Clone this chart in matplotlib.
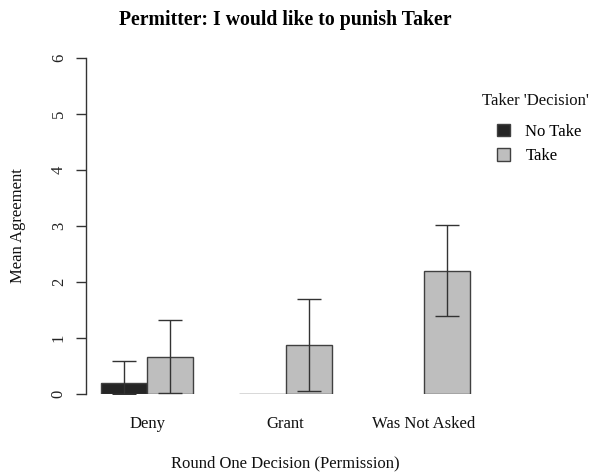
import numpy as np
import matplotlib
matplotlib.use("Agg")
import matplotlib.pyplot as plt
import matplotlib.transforms as mtransforms
from matplotlib.patches import Patch

# ---- data ----
groups = ["Deny", "Grant", "Was Not Asked"]
series = ["No Take", "Take"]
no_take_mean = [0.20, 0.00, np.nan]
no_take_lo = [0.00, 0.00, np.nan]
no_take_hi = [0.59, 0.00, np.nan]
take_mean = [0.67, 0.88, 2.21]
take_lo = [0.02, 0.06, 1.39]
take_hi = [1.32, 1.70, 3.02]
yticks = [0, 1, 2, 3, 4, 5, 6]

title = "Permitter: I would like to punish Taker"
xlabel = "Round One Decision (Permission)"
ylabel = "Mean Agreement"
legend_title = "Taker 'Decision'"

# ---- style ----
plt.rcParams['font.family'] = ['Liberation Serif', 'DejaVu Serif']
W, H = 589, 474
FS = 12
fig = plt.figure(figsize=(W / 100, H / 100), dpi=100)
ax = fig.add_axes([86.2 / W, 79.7 / H, (485 - 86.2) / W, 336 / H])

colors = ["#252525", "#bebebe"]
edge = "#404040"
errc = "#333333"

# R barplot beside layout: bar width 1, space between groups 1
n = len(groups)
group_start = np.arange(n) * 3 + 1.0
means = [no_take_mean, take_mean]
los = [no_take_lo, take_lo]
his = [no_take_hi, take_hi]
for s in range(len(series)):
    xc = group_start + s + 0.5
    m = np.array(means[s], dtype=float)
    ok = ~np.isnan(m)
    ax.bar(xc[ok], m[ok], width=1.0, color=colors[s], edgecolor=edge,
           linewidth=1.0, zorder=2)
    lo = np.array(los[s], dtype=float)
    hi = np.array(his[s], dtype=float)
    ok2 = ok & (hi > lo)
    ax.errorbar(xc[ok2], m[ok2], yerr=[m[ok2] - lo[ok2], hi[ok2] - m[ok2]],
                fmt='none', ecolor=errc, elinewidth=1.0, capsize=8.3,
                capthick=1.0, zorder=3)

ax.set_xlim(0.68, 9.32)
ax.set_ylim(0, 6)
ax.set_yticks(yticks)
ax.set_yticklabels([str(t) for t in yticks], rotation=90, va='center',
                   fontsize=FS)
ax.tick_params(axis='y', length=7, width=1.0, color='#333333', pad=7,
               labelcolor='#222222')
ax.set_xticks([])
for sp in ['top', 'right', 'bottom']:
    ax.spines[sp].set_visible(False)
ax.spines['left'].set_bounds(0, 6)
ax.spines['left'].set_color('#333333')
ax.spines['left'].set_linewidth(1.0)

# group labels
trans = mtransforms.blended_transform_factory(ax.transData, fig.transFigure)
for i, g in enumerate(groups):
    ax.text(group_start[i] + 1.0, 1 - 424 / H, g, transform=trans,
            ha='center', va='center', fontsize=FS, color='#111111')

fig.text((86.2 + 485) / 2 / W, 1 - 463 / H, xlabel, ha='center',
         va='center', fontsize=FS, color='#111111')
fig.text(18 / W, 1 - 226 / H, ylabel, rotation=90, ha='center',
         va='center', fontsize=FS, color='#111111')
fig.text((86.2 + 485) / 2 / W, 1 - 20 / H, title, ha='center', va='center',
         fontsize=14.2, fontweight='bold')

# legend
fig.text(535 / W, 1 - 101 / H, legend_title, ha='center', va='center',
         fontsize=FS, color='#111111')
handles = [Patch(facecolor=colors[i], edgecolor=edge, linewidth=1.0,
                 label=series[i]) for i in range(len(series))]
leg = fig.legend(handles=handles, frameon=False,
                 loc='upper left', bbox_to_anchor=(497 / W, 1 - 124 / H),
                 borderpad=0, borderaxespad=0,
                 fontsize=FS, handlelength=0.75,
                 handleheight=0.75, handletextpad=0.95, labelspacing=0.5)

fig.savefig("out.png", dpi=100)
